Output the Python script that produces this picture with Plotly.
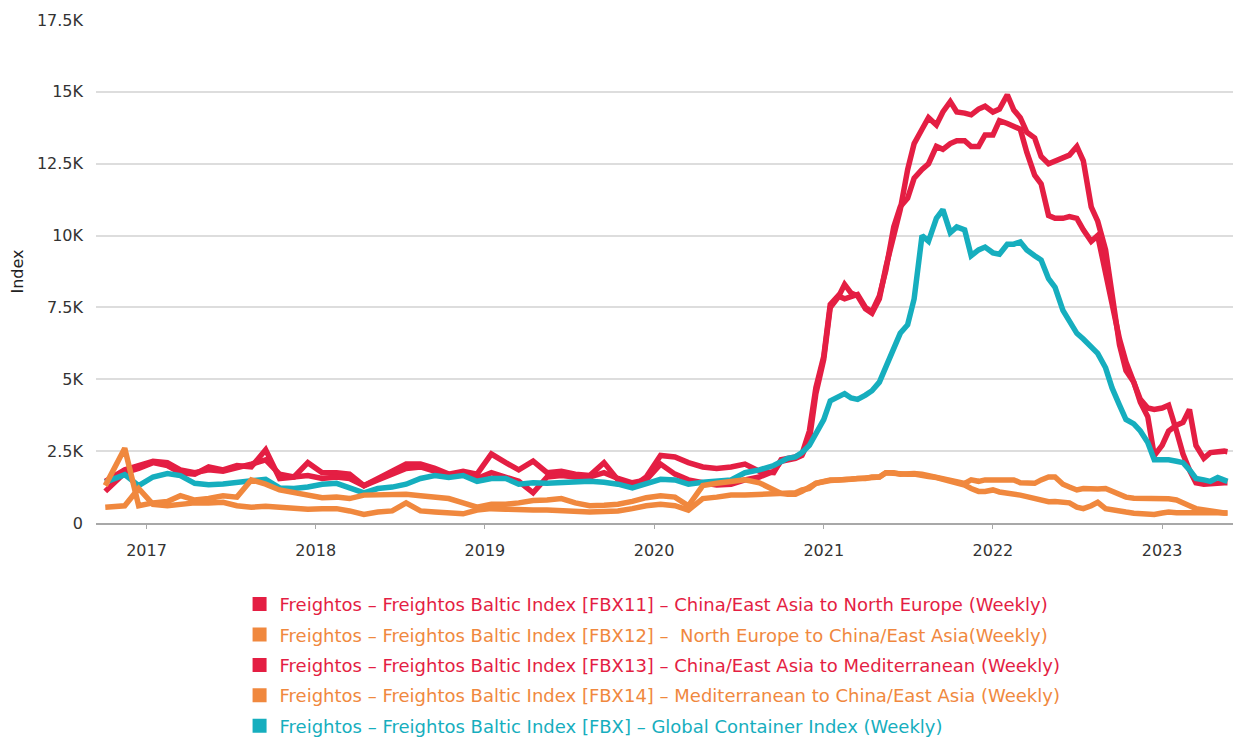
import plotly.graph_objects as go

# ---------------- data ----------------
monthly_dates = ["2016-10-04"] + [f"{y}-{m:02d}-15" for y in range(2016, 2021) for m in range(1, 13)
                                  if (y, m) >= (2016, 11) and (y, m) <= (2020, 9)]
semi_dates = [f"{y}-{m:02d}-{d:02d}" for y in range(2020, 2024) for m in range(1, 13) for d in (1, 15)
              if (y, m) >= (2020, 10) and (y, m) <= (2023, 5)]
dates = monthly_dates + semi_dates + ["2023-05-22"]

fbx11 = [1.1, 1.75, 1.9, 2.1, 2.0, 1.75, 1.7, 1.95, 1.85, 2.0, 1.95, 2.55, 1.55, 1.6, 2.1, 1.75, 1.75, 1.7,
         1.3, 1.55, 1.8, 2.05, 2.05, 1.9, 1.7, 1.8, 1.7, 2.4, 2.1, 1.85, 2.15, 1.75, 1.8, 1.7, 1.65, 2.1,
         1.5, 1.25, 1.6, 2.35, 2.3, 2.1, 1.95, 1.9, 1.95, 2.05, 1.8, 1.75,
         2.2, 2.25, 2.3, 2.4, 3.2, 4.7, 5.8, 7.6, 7.9, 7.8, 7.9, 7.95, 7.5, 7.35, 7.9, 8.8, 10.3, 11.0,
         11.3, 12.0, 12.3, 12.5, 13.1, 13.0, 13.2, 13.3, 13.3, 13.1, 13.1, 13.5, 13.5, 14.0, 13.9, 13.8,
         13.7, 12.9, 12.1, 11.8, 10.7, 10.6, 10.6, 10.66, 10.6, 10.2, 9.8, 10.0, 8.7, 7.5, 6.4, 5.6,
         4.86, 4.3, 4.0, 3.95, 4.0, 4.1, 3.2, 2.4, 1.84, 1.4, 1.35, 1.38, 1.4, 1.4, 1.4]
fbx13 = [1.45, 1.85, 2.0, 2.15, 2.1, 1.85, 1.75, 1.85, 1.8, 1.9, 2.05, 2.2, 1.7, 1.6, 1.65, 1.55, 1.6, 1.55,
         1.3, 1.5, 1.7, 1.9, 1.95, 1.8, 1.65, 1.7, 1.55, 1.75, 1.6, 1.45, 1.05, 1.6, 1.65, 1.6, 1.6, 1.75,
         1.55, 1.4, 1.5, 2.05, 1.7, 1.5, 1.4, 1.32, 1.35, 1.5, 1.6, 1.8,
         2.15, 2.2, 2.25, 2.35, 2.9, 4.5, 5.7, 7.5, 7.85, 8.3, 8.0, 7.9, 7.45, 7.3, 7.8, 8.9, 10.1, 10.9,
         12.3, 13.2, 13.7, 14.1, 13.85, 14.3, 14.66, 14.3, 14.26, 14.2, 14.4, 14.5, 14.3, 14.4, 14.9, 14.37,
         14.1, 13.6, 13.4, 12.75, 12.5, 12.6, 12.75, 12.8, 13.1, 12.6, 11.0, 10.5, 9.5, 7.9, 6.2, 5.3,
         4.9, 4.2, 3.7, 2.35, 2.7, 3.2, 3.4, 3.5, 3.95, 2.7, 2.25, 2.45, 2.5, 2.5, 2.48]
fbx12 = [1.3, 2.6, 0.6, 0.7, 0.75, 0.95, 0.8, 0.85, 0.95, 0.9, 1.5, 1.35, 1.15, 1.05, 0.95, 0.88, 0.9, 0.85,
         0.97, 0.97, 1.0, 1.0, 0.95, 0.9, 0.85, 0.7, 0.55, 0.65, 0.65, 0.7, 0.78, 0.8, 0.85, 0.7, 0.6, 0.62,
         0.65, 0.75, 0.88, 0.95, 0.9, 0.6, 1.3, 1.38, 1.45, 1.5, 1.4, 1.15,
         1.03, 1.0, 1.0, 1.1, 1.25, 1.38, 1.45, 1.5, 1.5, 1.52, 1.52, 1.55, 1.58, 1.6, 1.6, 1.75, 1.75, 1.7,
         1.72, 1.72, 1.7, 1.65, 1.6, 1.55, 1.5, 1.42, 1.38, 1.5, 1.45, 1.5, 1.5, 1.5, 1.52, 1.5,
         1.4, 1.38, 1.38, 1.5, 1.6, 1.6, 1.35, 1.25, 1.15, 1.2, 1.18, 1.18, 1.2, 1.1, 1.0, 0.9,
         0.86, 0.86, 0.86, 0.85, 0.85, 0.84, 0.8, 0.72, 0.6, 0.5, 0.45, 0.42, 0.38, 0.35, 0.35]
fbx14 = [0.55, 0.6, 1.2, 0.65, 0.6, 0.65, 0.7, 0.7, 0.72, 0.6, 0.55, 0.58, 0.55, 0.52, 0.48, 0.5, 0.5, 0.42,
         0.3, 0.38, 0.42, 0.7, 0.42, 0.38, 0.35, 0.32, 0.45, 0.5, 0.48, 0.45, 0.45, 0.45, 0.42, 0.4, 0.38, 0.4,
         0.42, 0.5, 0.6, 0.65, 0.6, 0.45, 0.85, 0.9, 0.97, 0.97, 0.98, 1.02,
         1.03, 1.0, 1.05, 1.15, 1.2, 1.38, 1.45, 1.48, 1.5, 1.5, 1.52, 1.55, 1.55, 1.6, 1.6, 1.75, 1.72, 1.72,
         1.7, 1.7, 1.68, 1.62, 1.58, 1.52, 1.5, 1.4, 1.32, 1.2, 1.1, 1.1, 1.15, 1.08, 1.05, 1.02,
         0.97, 0.92, 0.85, 0.78, 0.74, 0.75, 0.74, 0.7, 0.55, 0.5, 0.6, 0.72, 0.5, 0.45, 0.42, 0.38,
         0.34, 0.33, 0.32, 0.3, 0.35, 0.38, 0.36, 0.36, 0.38, 0.4, 0.38, 0.38, 0.36, 0.35, 0.35]
fbx = [1.42, 1.68, 1.3, 1.6, 1.72, 1.65, 1.38, 1.33, 1.36, 1.42, 1.45, 1.52, 1.22, 1.2, 1.25, 1.35, 1.38, 1.2,
       1.05, 1.2, 1.25, 1.35, 1.55, 1.65, 1.58, 1.65, 1.45, 1.55, 1.55, 1.35, 1.4, 1.38, 1.4, 1.42, 1.45, 1.42,
       1.35, 1.22, 1.38, 1.52, 1.5, 1.35, 1.42, 1.45, 1.5, 1.75, 1.85, 2.0,
       2.15, 2.25, 2.3, 2.45, 2.7, 3.1, 3.6, 4.25, 4.4, 4.5, 4.35, 4.3, 4.45, 4.6, 4.9, 5.45, 6.1, 6.6,
       6.9, 7.8, 10.0, 9.8, 10.6, 10.9, 10.1, 10.3, 10.2, 9.3, 9.5, 9.6, 9.4, 9.35, 9.7, 9.7,
       9.78, 9.5, 9.3, 9.15, 8.5, 8.2, 7.4, 7.0, 6.6, 6.4, 6.15, 5.9, 5.4, 4.7, 4.1, 3.6,
       3.45, 3.2, 2.8, 2.2, 2.2, 2.2, 2.15, 2.1, 1.85, 1.55, 1.5, 1.45, 1.58, 1.5, 1.45]

names = [
    "Freightos – Freightos Baltic Index [FBX11] – China/East Asia to North Europe (Weekly)",
    "Freightos – Freightos Baltic Index [FBX12] –  North Europe to China/East Asia(Weekly)",
    "Freightos – Freightos Baltic Index [FBX13] – China/East Asia to Mediterranean (Weekly)",
    "Freightos – Freightos Baltic Index [FBX14] – Mediterranean to China/East Asia (Weekly)",
    "Freightos – Freightos Baltic Index [FBX] – Global Container Index (Weekly)",
]
y_tickvals = [0, 2500, 5000, 7500, 10000, 12500, 15000, 17500]
y_ticktext = ["0", "2.5K", "5K", "7.5K", "10K", "12.5K", "15K", "17.5K"]
x_tickvals = [f"{y}-01-01" for y in range(2017, 2024)]
x_ticktext = [str(y) for y in range(2017, 2024)]

RED = "#E41E43"
ORANGE = "#F0883E"
TEAL = "#16AEBE"
colors = [RED, ORANGE, RED, ORANGE, TEAL]
series = [fbx11, fbx12, fbx13, fbx14, fbx]

fig = go.Figure()
draw_order = [0, 2, 4, 1, 3]
for i in draw_order:
    fig.add_trace(go.Scatter(
        x=dates, y=[v * 1000 for v in series[i]], mode="lines",
        line=dict(color=colors[i], width=5.5), showlegend=False, hoverinfo="skip"))
for i in range(5):
    fig.add_trace(go.Scatter(
        x=[None], y=[None], mode="markers",
        marker=dict(symbol="square", size=14, color=colors[i]),
        name=f"<span style='color:{colors[i]}'>{names[i]}</span>",
        legendgroup=f"g{i}", showlegend=True))

FONT = "DejaVu Sans"
# the page body adds an 8px offset, so the figure is 8px smaller and margins shifted
fig.update_layout(
    width=1233, height=730,
    margin=dict(l=88, r=1, t=12, b=215, autoexpand=False),
    paper_bgcolor="white", plot_bgcolor="white",
    font=dict(family=FONT, size=16, color="#333333"),
    legend=dict(orientation="v", x=0.1255, xanchor="left", y=-0.125, yanchor="top",
                font=dict(family=FONT, size=18), tracegroupgap=4, itemwidth=30),
    xaxis=dict(type="date", range=["2016-09-14", "2023-06-18"],
               tickvals=x_tickvals, ticktext=x_ticktext,
               showgrid=False, showline=True, linecolor="#a8a8a8", linewidth=2,
               ticks="outside", ticklen=4, tickcolor="#a8a8a8", ticklabelstandoff=8,
               tickfont=dict(family=FONT, size=16, color="#333333")),
    yaxis=dict(range=[0, 17500], tickvals=y_tickvals, ticktext=y_ticktext,
               showgrid=True, gridcolor="#dddddd", gridwidth=2, zeroline=False,
               ticks="", ticklabelstandoff=12,
               tickfont=dict(family=FONT, size=16, color="#333333"),
               title=dict(text="Index", standoff=10, font=dict(family=FONT, size=16, color="#222222"))),
)
fig.write_html("out.html")
